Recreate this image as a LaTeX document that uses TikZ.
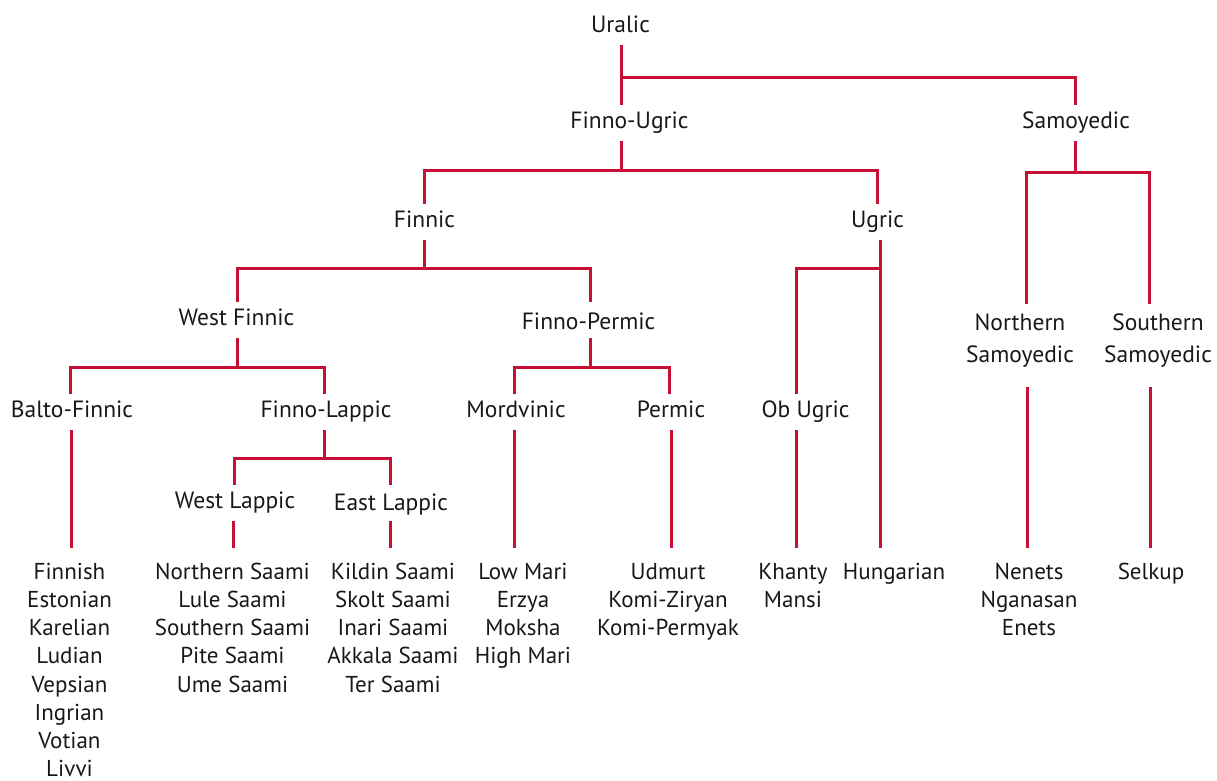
\documentclass[tikz,border=0pt]{standalone}
\usepackage{fontspec}
\setmainfont{PT Sans}
\definecolor{urared}{RGB}{198,16,54}
\definecolor{txt}{RGB}{24,24,24}
\begin{document}
\begin{tikzpicture}[x=1pt,y=-1pt,
  br/.style={draw=urared,line width=3pt,line join=miter,line cap=butt},
  lab/.style={font=\fontsize{23.5}{28}\selectfont,text=txt,text height=15pt,text depth=5pt,inner ysep=8pt,inner xsep=0pt,anchor=base},
  lab2/.style={font=\fontsize{23.5}{32}\selectfont,text=txt,align=center,anchor=north,inner sep=0pt},
  lst/.style={font=\fontsize{23}{28.2}\selectfont,text=txt,align=center,anchor=north,inner sep=0pt}]
\useasboundingbox (0,0) rectangle (1217,780);
% level nodes
\node[lab] (ural) at (620.5,32) {Uralic};
\node[lab] (fu) at (629.5,128) {Finno-Ugric};
\node[lab] (samo) at (1076,128) {Samoyedic};
\node[lab] (finnic) at (424.5,227) {Finnic};
\node[lab] (ugric) at (877.5,227) {Ugric};
\node[lab] (wf) at (236.5,325) {West Finnic};
\node[lab] (fp) at (588.5,325) {\raisebox{-4pt}{Finno-Permic}};
\node[lab] (balto) at (72,417) {Balto-Finnic};
\node[lab] (fl) at (326,417) {Finno-Lappic};
\node[lab] (mord) at (516,417) {Mordvinic};
\node[lab] (perm) at (671,417) {Permic};
\node[lab] (obu) at (805.5,417) {Ob Ugric};
\node[lab] (wl) at (235,508) {West Lappic};
\node[lab] (el) at (391,508) {\raisebox{-2pt}{East Lappic}};
\node[lab2] (nsam) at (1020,304) {\rule{0pt}{26pt}Northern\\Samoyedic};
\node[lab2] (ssam) at (1158,304) {\rule{0pt}{26pt}Southern\\Samoyedic};
% leaf lists
\node[lst] (lbalto) at (69.5,548) {\rule{0pt}{31pt}Finnish\\Estonian\\Karelian\\Ludian\\Vepsian\\Ingrian\\Votian\\Livvi};
\node[lst] (lwl) at (232.5,548) {\rule{0pt}{31pt}Northern Saami\\Lule Saami\\Southern Saami\\Pite Saami\\Ume Saami};
\node[lst] (lel) at (393,548) {\rule{0pt}{31pt}Kildin Saami\\Skolt Saami\\Inari Saami\\Akkala Saami\\Ter Saami};
\node[lst] (lmord) at (523,548) {\rule{0pt}{31pt}Low Mari\\Erzya\\Moksha\\High Mari};
\node[lst] (lperm) at (668,548) {\rule{0pt}{31pt}Udmurt\\Komi-Ziryan\\Komi-Permyak};
\node[lst] (lobu) at (793,548) {\rule{0pt}{31pt}Khanty\\Mansi};
\node[lst] (lhung) at (894,548) {\rule{0pt}{31pt}Hungarian};
\node[lst] (lnsam) at (1029,548) {\rule{0pt}{31pt}Nenets\\Nganasan\\Enets};
\node[lst] (lssam) at (1151,548) {\rule{0pt}{31pt}Selkup};
% junctions
\coordinate (jU) at (621,77);
\coordinate (jFU) at (621,170);
\coordinate (jS) at (1075,172);
\coordinate (jF) at (424,268);
\coordinate (jUg) at (880,268);
\coordinate (jWF) at (237,367);
\coordinate (jFP) at (590,367);
\coordinate (jFL) at (324,458);
% connectors
\draw[br] (ural.south -| jU) -- (fu.north -| jU);
\draw[br] (jU) -| (samo.north -| jS);
\draw[br] (fu.south -| jFU) -- (jFU);
\draw[br] (finnic.north -| jF) |- (jFU) -| ([xshift=-0.5pt]ugric.north);
\draw[br] (samo.south -| jS) -- (jS);
\draw[br] ([xshift=6pt]nsam.north) |- (jS) -| ([xshift=-8.5pt]ssam.north);
\draw[br] (finnic.south -| jF) -- (jF);
\draw[br] (wf.north -| jWF) |- (jF) -| (fp.north -| jFP);
\draw[br] (ugric.south -| jUg) -- (jUg |- lhung.north);
\draw[br] ([xshift=-9.5pt]obu.north) |- (jUg);
\draw[br] (wf.south -| jWF) -- (jWF);
\draw[br] ([xshift=-1.5pt]balto.north) |- (jWF) -| (fl.north -| jFL);
\draw[br] (fp.south -| jFP) -- (jFP);
\draw[br] ([xshift=-1.5pt]mord.north) |- (jFP) -| ([xshift=-2pt]perm.north);
\draw[br] (fl.south -| jFL) -- (jFL);
\draw[br] ([xshift=-1pt]wl.north) |- (jFL) -| ([xshift=-1pt]el.north);
\draw[br] ([xshift=-1pt]balto.south) -- ([xshift=-1pt]balto.south |- lbalto.north);
\draw[br] ([xshift=-1.5pt]wl.south) -- ([xshift=-1.5pt]wl.south |- lwl.north);
\draw[br] ([xshift=-1pt]el.south) -- ([xshift=-1pt]el.south |- lel.north);
\draw[br] ([xshift=-1.5pt]mord.south) -- ([xshift=-1.5pt]mord.south |- lmord.north);
\draw[br] (perm.south) -- (perm.south |- lperm.north);
\draw[br] ([xshift=-9.5pt]obu.south) -- ([xshift=-9.5pt]obu.south |- lobu.north);
\draw[br,shorten <=20pt] ([xshift=7pt]nsam.south) -- ([xshift=7pt]nsam.south |- lnsam.north);
\draw[br,shorten <=20pt] ([xshift=-8pt]ssam.south) -- ([xshift=-8pt]ssam.south |- lssam.north);
\end{tikzpicture}
\end{document}
